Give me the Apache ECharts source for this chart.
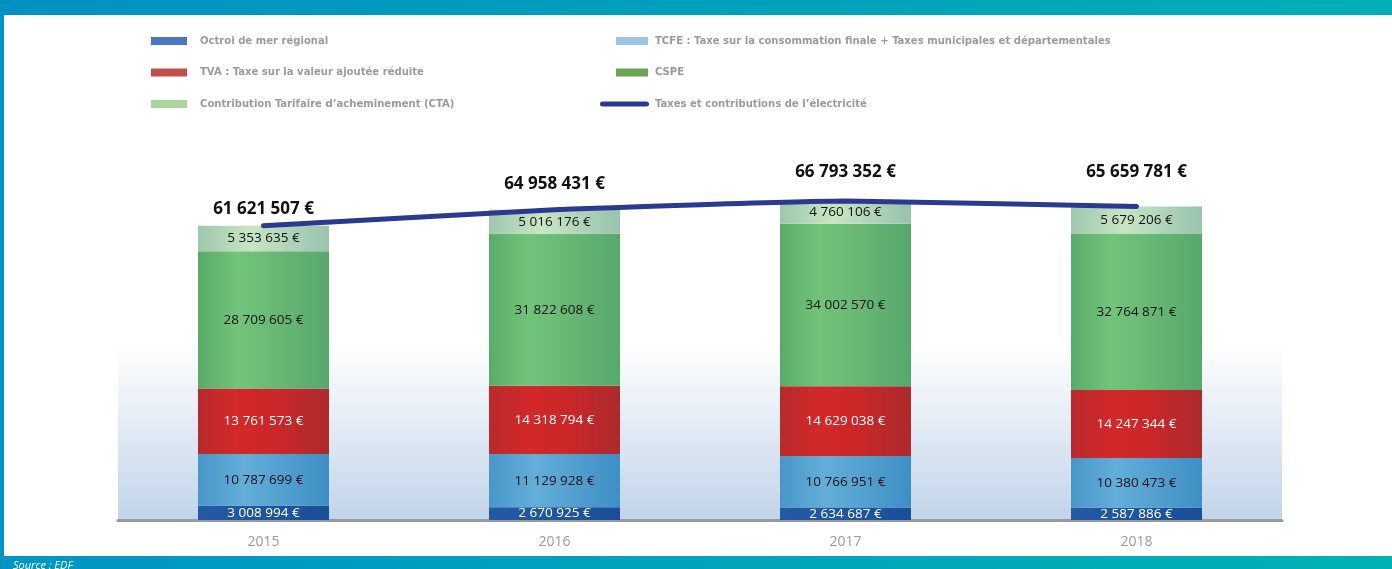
<!DOCTYPE html>
<html>
<head>
<meta charset="utf-8">
<script src="https://cdn.jsdelivr.net/npm/echarts@6/dist/echarts.min.js"></script>
<style>
  html, body { margin: 0; padding: 0; background: #ffffff; }
  #chart { width: 1392px; height: 569px; }
</style>
</head>
<body>
<div id="chart"></div>
<script>
// Years on the category axis
const years = ['2015', '2016', '2017', '2018'];

// Components of the electricity taxes (EUR), bottom to top of each stack
const octroiDeMer = [3008994, 2670925, 2634687, 2587886];
const tcfe = [10787699, 11129928, 10766951, 10380473];
const tva = [13761573, 14318794, 14629038, 14247344];
const cspe = [28709605, 31822608, 34002570, 32764871];
const cta = [5353635, 5016176, 4760106, 5679206];

// Total taxes and contributions per year (EUR)
const totals = [61621507, 64958431, 66793352, 65659781];

// Series names as shown in the legend
const names = {
  octroi: 'Octroi de mer régional',
  tcfe: 'TCFE : Taxe sur la consommation finale + Taxes municipales et départementales',
  tva: 'TVA : Taxe sur la valeur ajoutée réduite',
  cspe: 'CSPE',
  cta: 'Contribution Tarifaire d\u2019acheminement (CTA)',
  total: 'Taxes et contributions de l\u2019électricité'
};

const fmt = v => String(v).replace(/\B(?=(\d{3})+(?!\d))/g, ' ') + ' €';

const hGrad = stops => new echarts.graphic.LinearGradient(0, 0, 1, 0,
  stops.map(([o, c]) => ({ offset: o, color: c })));

const barFont = '"Open Sans", "Noto Sans", sans-serif';
const legendFont = '"Liberation Sans Narrow", "DejaVu Sans Condensed", "Roboto", sans-serif';

function barSeries(name, data, fill, labelColor) {
  return {
    name: name,
    type: 'bar',
    stack: 'taxes',
    barWidth: 131,
    data: data,
    itemStyle: { color: fill },
    label: {
      show: true,
      position: 'inside',
      formatter: p => fmt(p.value),
      color: labelColor,
      fontFamily: barFont,
      fontSize: 13.5
    },
    emphasis: { disabled: true }
  };
}

const legendText = {
  color: '#9b9b9b',
  fontFamily: legendFont,
  fontWeight: 'bold',
  fontSize: 11.2,
  lineHeight: 14
};

const chart = echarts.init(document.getElementById('chart'), null, { renderer: 'canvas' });

chart.setOption({
  animation: false,
  backgroundColor: '#ffffff',
  legend: [
    {
      orient: 'vertical', left: 151, top: 34, padding: 0,
      itemWidth: 36, itemHeight: 8, itemGap: 17.5,
      icon: 'rect', selectedMode: false,
      textStyle: Object.assign({ padding: [0, 0, 0, 8] }, legendText),
      data: [
        { name: names.octroi, itemStyle: { color: '#4677bf' } },
        { name: names.tva, itemStyle: { color: '#c0504d' } },
        { name: names.cta, itemStyle: { color: '#a9d49d' } }
      ]
    },
    {
      orient: 'vertical', left: 616, top: 34, padding: 0,
      itemWidth: 32, itemHeight: 8, itemGap: 17.5,
      icon: 'rect', selectedMode: false,
      textStyle: Object.assign({ padding: [0, 0, 0, 2] }, legendText),
      data: [
        { name: names.tcfe, itemStyle: { color: '#9dc6e6' } },
        { name: names.cspe, itemStyle: { color: '#6ba655' } }
      ]
    },
    {
      orient: 'vertical', left: 600, top: 97, padding: 0,
      itemWidth: 49, itemHeight: 5,
      icon: 'path://M2.5,0 L46.5,0 A2.5,2.5 0 0 1 46.5,5 L2.5,5 A2.5,2.5 0 0 1 2.5,0 Z',
      selectedMode: false,
      textStyle: Object.assign({ padding: [0, 0, 0, 1] }, legendText),
      data: [{ name: names.total, itemStyle: { color: '#2b3990' } }]
    }
  ],
  grid: {
    left: 118, right: 110, top: 138, bottom: 49,
    show: true, borderWidth: 0,
    backgroundColor: new echarts.graphic.LinearGradient(0, 0, 0, 1, [
      { offset: 0, color: 'rgba(255,255,255,0)' },
      { offset: 0.54, color: '#ffffff' },
      { offset: 1, color: '#c2d4ea' }
    ])
  },
  xAxis: {
    type: 'category',
    data: years,
    axisLine: { lineStyle: { color: '#9a9a9a', width: 3 } },
    axisTick: { show: false },
    axisLabel: { color: '#9a9a9a', fontFamily: barFont, fontSize: 14, margin: 15 }
  },
  yAxis: {
    type: 'value', min: 0, max: 80000000,
    show: false, splitLine: { show: false }
  },
  series: [
    barSeries(names.octroi, octroiDeMer,
      hGrad([[0, '#2459a5'], [0.4, '#1f56a3'], [1, '#1b4e98']]), '#ffffff'),
    barSeries(names.tcfe, tcfe,
      hGrad([[0, '#4897c9'], [0.35, '#63aed9'], [1, '#3e8fc4']]), '#111111'),
    barSeries(names.tva, tva,
      hGrad([[0, '#b82a2c'], [0.3, '#d32829'], [0.6, '#cb2729'], [1, '#ac2a2c']]), '#ffffff'),
    barSeries(names.cspe, cspe,
      hGrad([[0, '#5aab69'], [0.3, '#72c47a'], [0.6, '#68b873'], [1, '#56a86c']]), '#111111'),
    barSeries(names.cta, cta,
      hGrad([[0, '#9ec7ad'], [0.4, '#c8e5c4'], [1, '#98c3ae']]), '#111111'),
    {
      name: names.total,
      type: 'line',
      z: 5,
      smooth: 0.15,
      showSymbol: true,
      symbol: 'circle',
      symbolSize: 0.1,
      lineStyle: { color: '#2b3990', width: 5, cap: 'round' },
      itemStyle: { color: '#2b3990' },
      data: totals.map((v, i) => ({
        value: v,
        label: { distance: [8, 17, 20, 26][i] }
      })),
      label: {
        show: true,
        position: 'top',
        formatter: p => fmt(p.value),
        color: '#111111',
        fontFamily: barFont,
        fontWeight: 'bold',
        fontSize: 17
      },
      emphasis: { disabled: true }
    }
  ],
  graphic: [
    {
      type: 'rect', left: 0, top: 0, silent: true,
      shape: { width: 1392, height: 15 },
      style: { fill: new echarts.graphic.LinearGradient(0, 0, 1, 0, [
        { offset: 0, color: '#0091c2' }, { offset: 1, color: '#00aeb6' }
      ]) }
    },
    {
      type: 'rect', left: 0, top: 15, silent: true,
      shape: { width: 4, height: 541 },
      style: { fill: '#0094c6' }
    },
    {
      type: 'rect', left: 0, top: 556, silent: true,
      shape: { width: 1392, height: 13 },
      style: { fill: new echarts.graphic.LinearGradient(0, 0, 1, 0, [
        { offset: 0, color: '#0095c4' }, { offset: 1, color: '#00b2b4' }
      ]) }
    },
    {
      type: 'text', left: 13, top: 560, silent: true,
      style: {
        text: 'Source : EDF', fill: '#ffffff',
        font: 'italic 11px "Open Sans", sans-serif'
      }
    }
  ]
});
</script>
</body>
</html>
